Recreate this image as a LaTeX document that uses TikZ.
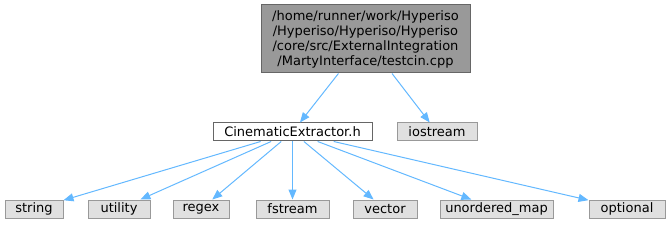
\documentclass[tikz,border=0pt]{standalone}
\usepackage{fontspec}
\setmainfont{DejaVu Sans}
\usetikzlibrary{arrows.meta}
\definecolor{edgeblue}{HTML}{63B8FF}
\definecolor{rootfill}{HTML}{999999}
\definecolor{rootline}{HTML}{666666}
\definecolor{sysfill}{HTML}{E0E0E0}
\definecolor{sysline}{HTML}{999999}
\begin{document}
\begin{tikzpicture}[x=1pt,y=-1pt,line width=1pt,
    every node/.style={font=\fontsize{13}{15}\selectfont, inner sep=0pt, minimum height=18pt},
    rootfile/.style={draw=rootline, fill=rootfill, align=center, minimum height=68pt},
    localfile/.style={draw=rootline, fill=white},
    sysfile/.style={draw=sysline, fill=sysfill},
    incl/.style={draw=edgeblue, -{Triangle[length=10pt,width=8pt]}}]

\useasboundingbox (0,0) rectangle (669,227);

% ===== Datei oben =====
\node[rootfile, minimum width=209pt] (testcin) at (365.5,39)
  {/home/runner/work/Hyperiso\\/Hyperiso/Hyperiso/Hyperiso\\/core/src/ExternalIntegration\\/MartyInterface/testcin.cpp};

% ===== Mittlere Reihe =====
\node[localfile, minimum width=159pt] (cinext) at (292.5,132) {CinematicExtractor.h};
\node[sysfile, minimum width=80pt] (iostream) at (437,132) {iostream};

% ===== Untere Reihe =====
\node[sysfile, minimum width=58pt] (string) at (34,209) {string};
\node[sysfile, minimum width=62pt] (utility) at (119,209) {utility};
\node[sysfile, minimum width=56pt] (regex) at (201,209) {regex};
\node[sysfile, minimum width=73pt] (fstream) at (292.5,209) {fstream};
\node[sysfile, minimum width=64pt] (vector) at (385,209) {vector};
\node[sysfile, minimum width=113pt] (umap) at (496.5,209) {unordered\_map};
\node[sysfile, minimum width=76pt] (optional) at (627,209) {optional};

% ===== Pfeile =====
\draw[incl] (testcin) -- (cinext);
\draw[incl] (testcin) -- (iostream);

\draw[incl] (cinext) -- (string);
\draw[incl] (cinext) -- (utility);
\draw[incl] (cinext) -- (regex);
\draw[incl] (cinext) -- (fstream);
\draw[incl] (cinext) -- (vector);
\draw[incl] (cinext) -- (umap);
\draw[incl] (cinext) -- (optional);

\end{tikzpicture}
\end{document}
